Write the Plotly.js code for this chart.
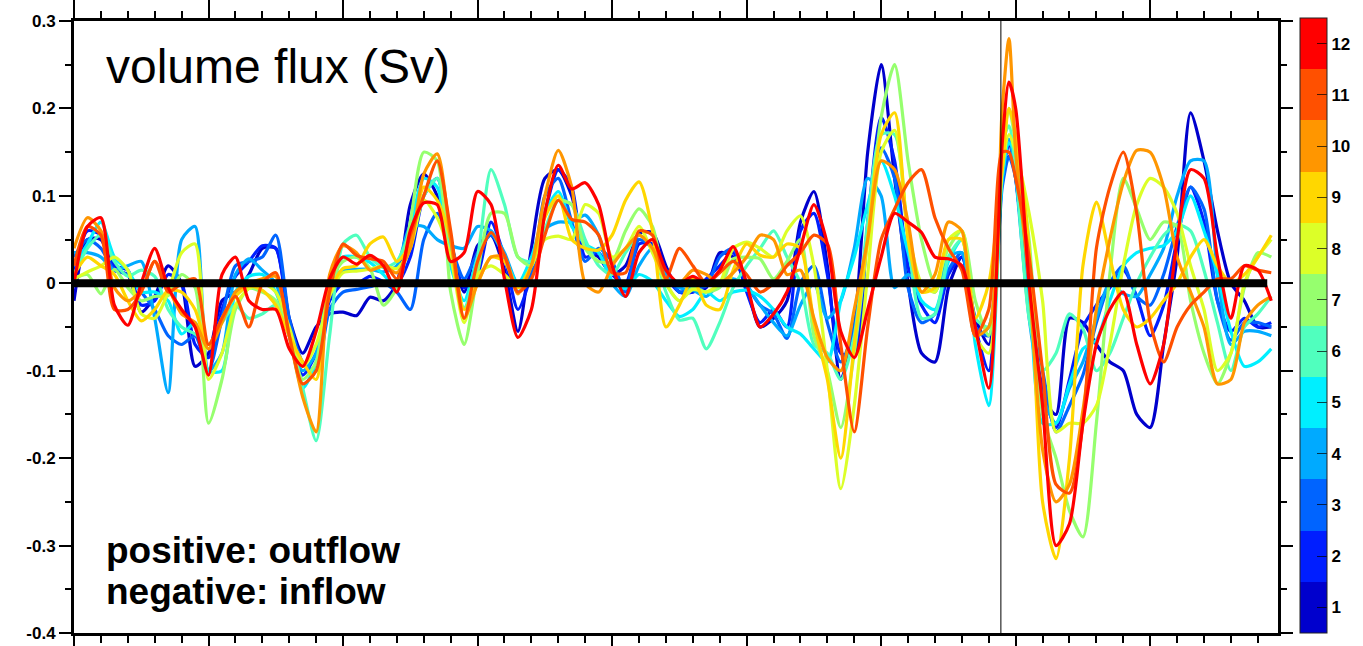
<!DOCTYPE html>
<html>
<head>
<meta charset="utf-8">
<script src="https://cdn.plot.ly/plotly-3.0.1.min.js"></script>
<style>html,body{margin:0;padding:0;background:#fff;}#chart{width:1363px;height:646px;}</style>
</head>
<body>
<div id="chart"></div>
<script>
// x positions (arbitrary time units, the axis carries no labels)
const xDays = [0,10,20,30,40,50,60,70,80,90,
100,110,120,130,140,150,160,170,180,190,
200,210,220,230,240,250,260,270,280,290,
300,310,320,330,340,350,360,370,380,390,
400,410,420,430,440,450,460,470,480,490,
500,510,520,530,540,550,560,570,580,590,
600,610,620,630,640,650,660,670,680,690,695,
700,710,720,730,740,750,760,770,780,790,
800,810,820,830,840,850,860,870,880,890];

const monthLabels = ['1','2','3','4','5','6','7','8','9','10','11','12'];
const monthColors = ['#0000cd','#001eff','#0064ff','#00aaff','#00efff','#50ffbe','#96ff6e','#dcff28','#ffd700','#ff9600','#ff5000','#ff0000'];

const m1 = [-0.02,0.05,0.05,0.015,0.01,-0.033,-0.015,0.02,0.0,-0.095,
-0.08,-0.02,-0.01,0.01,0.04,0.04,-0.04,-0.08,-0.05,-0.035,
-0.033,-0.037,-0.016,-0.02,0.0,0.09,0.125,0.1,0.04,-0.01,
0.043,0.055,0.015,-0.055,0.04,0.12,0.13,0.1,0.04,0.03,
0.01,0.02,0.057,0.058,0.02,-0.01,-0.01,-0.005,0.035,0.03,
-0.005,-0.05,-0.04,-0.02,0.07,0.105,0.02,-0.11,-0.05,0.15,
0.25,0.12,0.0,-0.08,-0.09,-0.005,0.03,-0.04,-0.07,0.12,0.16,
0.12,-0.02,-0.13,-0.15,-0.04,-0.045,-0.07,-0.09,-0.1,-0.15,
-0.165,-0.07,0.03,0.195,0.14,0.06,0.0,-0.02,-0.05,-0.05];

const m2 = [0.01,0.06,0.055,0.02,0.015,-0.025,-0.02,0.01,0.0,-0.07,
-0.085,-0.03,0.008,0.025,0.043,0.04,-0.05,-0.105,-0.08,-0.02,
0.0,-0.001,0.008,0.002,0.0,0.03,0.1,0.12,0.05,-0.005,
0.01,0.07,0.03,-0.03,0.01,0.08,0.13,0.11,0.03,0.035,
0.01,0.0,0.045,0.045,0.008,-0.01,-0.01,0.005,0.02,0.035,
-0.01,-0.045,-0.03,-0.05,0.06,0.08,0.01,-0.08,-0.08,0.07,
0.19,0.14,0.02,-0.025,-0.045,0.01,0.03,-0.05,-0.1,0.12,0.145,
0.14,-0.03,-0.12,-0.165,-0.11,-0.05,-0.025,-0.005,0.015,-0.015,
-0.06,-0.025,0.05,0.11,0.07,-0.02,-0.055,-0.04,-0.05,-0.045];

const m3 = [0.03,0.05,0.04,0.015,0.01,-0.01,-0.03,-0.06,-0.07,-0.06,
-0.1,-0.04,0.02,0.025,0.03,0.055,-0.04,-0.09,-0.1,-0.03,
-0.01,-0.007,-0.004,0.0,-0.01,-0.03,0.05,0.08,0.043,0.005,
0.035,0.055,0.03,-0.01,0.01,0.1,0.12,0.07,0.025,0.04,
0.025,-0.01,0.05,0.04,0.015,-0.01,-0.005,-0.003,0.03,0.04,
0.0,-0.025,-0.035,-0.063,0.0,0.02,-0.045,-0.09,-0.05,0.06,
0.155,0.12,-0.005,-0.045,-0.035,0.015,0.035,-0.05,-0.06,0.11,0.145,
0.12,-0.03,-0.1,-0.17,-0.14,-0.105,-0.045,0.0,0.02,-0.015,
-0.025,0.01,0.065,0.11,0.085,-0.02,-0.065,-0.045,-0.045,-0.05];

const m4 = [0.035,0.035,0.03,0.015,0.02,0.025,-0.04,-0.125,0.05,0.065,
-0.1,-0.08,0.01,0.028,0.015,0.0,-0.06,-0.1,-0.08,0.0,
0.015,0.016,0.016,0.013,0.02,0.065,0.065,0.05,0.043,0.04,
0.065,0.06,0.035,0.0,0.02,0.062,0.07,0.07,0.078,0.055,
0.0,-0.015,0.02,0.04,0.01,-0.005,-0.008,-0.015,0.0,0.005,
-0.003,-0.025,-0.045,-0.06,-0.025,0.0,-0.04,-0.02,0.04,0.12,
0.1,-0.005,0.01,0.0,-0.01,0.03,0.035,-0.06,-0.05,0.12,0.165,
0.12,-0.04,-0.13,-0.16,-0.12,-0.09,-0.04,0.0,-0.012,-0.015,
0.01,0.04,0.1,0.14,0.14,0.01,-0.07,-0.055,-0.055,-0.06];

const m5 = [0.02,0.045,0.07,0.03,0.015,-0.01,-0.01,-0.02,-0.058,-0.045,
-0.1,-0.1,-0.01,0.008,0.01,-0.01,-0.06,-0.12,-0.09,0.005,
0.03,0.03,0.024,0.01,-0.005,0.06,0.12,0.11,0.02,-0.02,
0.03,0.058,0.03,0.0,0.03,0.08,0.105,0.065,0.045,0.035,
0.003,-0.006,0.01,0.002,-0.02,-0.038,-0.03,-0.01,-0.02,-0.01,
-0.008,-0.015,-0.03,-0.05,-0.058,-0.075,-0.09,-0.02,0.03,0.09,
0.14,0.1,0.035,-0.02,-0.03,0.025,0.05,-0.07,-0.14,0.12,0.16,
0.15,0.0,-0.16,-0.16,-0.115,-0.075,-0.065,-0.02,0.02,0.035,
0.04,0.043,0.06,0.1,0.06,0.01,-0.055,-0.095,-0.09,-0.075];

const m6 = [0.01,0.04,0.055,0.025,0.008,0.015,0.008,-0.03,-0.05,-0.058,
-0.07,-0.045,-0.025,-0.04,-0.035,-0.025,-0.06,-0.12,-0.18,-0.06,
0.045,0.055,0.03,0.018,0.025,0.06,0.1,0.12,0.04,-0.028,
0.03,0.13,0.09,0.03,0.025,0.062,0.095,0.09,0.05,0.02,
0.01,0.035,0.055,0.04,-0.01,-0.042,-0.04,-0.075,-0.045,-0.005,
0.02,0.04,0.06,0.03,0.0,-0.07,-0.08,-0.11,-0.06,0.07,
0.17,0.17,0.05,-0.04,-0.035,0.03,0.05,-0.04,-0.05,0.16,0.18,
0.13,-0.04,-0.1,-0.08,-0.035,-0.052,-0.1,-0.08,-0.04,0.0,
0.03,0.055,0.067,0.06,0.015,-0.045,-0.1,-0.05,-0.035,-0.015];

const m7 = [0.005,0.01,-0.012,0.016,-0.005,-0.02,-0.015,-0.014,0.01,-0.005,
-0.16,-0.11,-0.03,-0.006,-0.01,-0.02,-0.06,-0.11,-0.09,0.0,
0.025,0.03,0.017,-0.025,-0.005,0.07,0.15,0.14,-0.01,-0.07,
0.012,0.08,0.08,0.03,0.02,0.08,0.095,0.09,0.04,0.025,
0.025,0.06,0.085,0.065,0.0,-0.02,-0.005,-0.01,-0.005,0.028,
0.03,0.028,0.005,0.025,0.05,-0.06,-0.1,-0.165,-0.08,0.05,
0.19,0.25,0.14,0.05,0.0,0.04,0.06,-0.02,-0.06,0.15,0.2,
0.16,0.05,-0.15,-0.2,-0.26,-0.29,-0.16,0.01,0.12,0.085,
0.05,0.07,0.065,-0.02,-0.08,-0.115,-0.08,-0.005,0.035,0.03];

const m8 = [0.005,0.013,0.02,0.03,0.015,-0.035,-0.04,-0.01,0.035,0.045,
-0.11,-0.08,-0.025,-0.006,0.0,-0.01,-0.05,-0.095,-0.07,-0.015,
0.012,0.014,0.016,0.02,0.017,0.04,0.095,0.075,0.03,-0.045,
0.01,0.02,0.01,-0.005,0.02,0.05,0.054,0.05,0.09,0.08,
0.03,0.04,0.065,0.035,0.0,-0.02,-0.007,-0.01,0.0,0.04,
0.047,0.04,0.03,0.06,0.077,0.02,-0.1,-0.235,-0.14,0.01,
0.15,0.175,0.06,0.0,-0.01,0.05,0.06,-0.06,-0.08,0.13,0.17,
0.15,0.08,-0.02,-0.17,-0.16,-0.16,-0.14,-0.07,0.02,0.09,
0.12,0.11,0.08,0.02,-0.03,-0.1,-0.08,0.0,0.03,0.05];

const m9 = [0.01,0.03,0.02,0.01,-0.02,-0.043,-0.03,-0.008,-0.01,-0.03,
-0.075,-0.04,-0.015,-0.003,-0.008,-0.025,-0.06,-0.09,-0.11,-0.01,
0.017,0.02,0.045,0.053,0.025,0.045,0.11,0.095,0.05,-0.03,
0.0,0.03,0.025,-0.005,0.02,0.075,0.1,0.05,0.04,0.038,
0.055,0.095,0.116,0.06,-0.05,-0.025,0.005,-0.025,-0.03,0.015,
0.045,0.032,0.03,0.045,0.04,-0.045,-0.11,-0.2,-0.07,0.05,
0.17,0.195,0.05,-0.01,-0.005,0.05,0.05,-0.04,0.0,0.13,0.2,
0.17,0.04,-0.25,-0.315,-0.2,0.02,0.093,0.03,-0.03,-0.05,
-0.04,-0.02,0.0,0.03,0.05,0.02,0.0,0.01,0.03,0.055];

const m10 = [0.04,0.075,0.06,-0.005,-0.02,-0.008,0.025,-0.005,-0.035,-0.045,
-0.075,-0.045,-0.01,0.0,0.005,0.008,-0.06,-0.13,-0.17,0.01,
0.043,0.035,0.015,0.02,0.012,0.04,0.125,0.148,0.05,-0.04,
0.0,0.03,0.03,-0.012,0.02,0.1,0.152,0.11,0.0,-0.01,
0.02,0.04,0.055,0.04,0.005,0.0,0.015,0.01,0.0,0.012,
0.03,0.055,0.05,0.01,0.015,-0.04,-0.085,-0.1,-0.03,0.05,
0.14,0.13,0.07,-0.01,0.01,0.07,0.06,-0.06,-0.05,0.2,0.28,
0.15,0.0,-0.19,-0.25,-0.23,-0.145,-0.03,0.05,0.115,0.152,
0.15,0.11,0.03,-0.01,-0.05,-0.115,-0.11,-0.045,-0.025,-0.015];

const m11 = [0.02,0.065,0.055,-0.03,-0.03,-0.01,0.025,-0.01,0.0,0.005,
-0.07,-0.04,-0.015,-0.05,0.0,0.012,-0.06,-0.115,-0.1,-0.01,
0.045,0.032,0.028,0.025,0.005,0.055,0.1,0.14,0.06,-0.04,
0.025,0.058,0.032,-0.01,0.005,0.055,0.095,0.073,0.07,0.055,
0.012,0.012,0.06,0.055,0.005,0.04,0.02,0.0,0.012,0.025,
0.01,-0.01,0.0,0.02,0.035,0.055,0.045,-0.07,-0.17,-0.05,
0.05,0.085,0.115,0.13,0.075,0.04,0.015,-0.06,-0.03,0.15,0.15,
0.12,0.03,-0.1,-0.23,-0.24,-0.16,0.04,0.11,0.15,0.08,
-0.045,-0.09,-0.05,-0.025,-0.01,0.005,0.005,0.02,0.015,0.012];

const m12 = [0.0,0.065,0.075,-0.025,-0.048,0.0,0.04,-0.005,-0.03,-0.05,
-0.105,0.01,0.03,-0.02,-0.03,-0.03,-0.075,-0.095,-0.055,0.005,
0.03,0.022,0.032,0.02,-0.01,0.06,0.092,0.09,0.025,0.035,
0.105,0.09,0.005,-0.062,-0.03,0.08,0.135,0.108,0.115,0.09,
0.02,-0.015,0.035,0.05,0.015,0.0,0.008,0.0,0.015,0.042,
0.0,-0.05,-0.035,-0.01,0.04,0.09,0.045,-0.055,-0.085,-0.03,
0.03,0.08,0.07,0.058,0.03,0.028,0.02,-0.05,-0.12,0.16,0.23,
0.2,0.0,-0.14,-0.3,-0.275,-0.16,-0.07,-0.03,-0.01,-0.07,
-0.115,-0.07,0.05,0.13,0.12,0.03,-0.04,0.02,0.015,-0.02];

const monthSeries = [m1,m2,m3,m4,m5,m6,m7,m8,m9,m10,m11,m12];

const yTickVals = [-0.4,-0.3,-0.2,-0.1,0,0.1,0.2,0.3];
const yTickText = ['-0.4','-0.3','-0.2','-0.1','0','0.1','0.2','0.3'];
const zeroLineEnd = 887;
const markerX = 689;

const FONT = 'Liberation Sans, Arial, Helvetica, sans-serif';

const traces = monthSeries.map((ys, i) => ({
  type: 'scatter', mode: 'lines', x: xDays, y: ys,
  line: {color: monthColors[i], width: 3.2, shape: 'spline', smoothing: 0.7},
  name: monthLabels[i], showlegend: false, hoverinfo: 'skip'
}));

const cs = [];
monthColors.forEach((c, i) => { cs.push([i/12, c]); cs.push([(i+1)/12, c]); });

traces.push({
  type: 'scatter', mode: 'markers', x: [null], y: [null], showlegend: false, hoverinfo: 'skip',
  marker: {
    color: [1], cmin: 0.5, cmax: 12.5, colorscale: cs, showscale: true,
    colorbar: {
      thickness: 27, thicknessmode: 'pixels',
      len: 615, lenmode: 'pixels',
      x: 1.0183, xanchor: 'left', xpad: 0,
      y: 0, yanchor: 'bottom', ypad: 0,
      outlinewidth: 1, outlinecolor: '#222',
      tickmode: 'array', tickvals: [1,2,3,4,5,6,7,8,9,10,11,12], ticktext: monthLabels,
      ticks: 'inside', ticklen: 10, tickwidth: 1, tickcolor: 'rgba(0,0,0,0.7)',
      tickfont: {family: FONT, size: 17, color: '#000', weight: 'bold'}
    }
  }
});

const layout = {
  width: 1363, height: 646,
  margin: {l: 74, r: 85, t: 21, b: 13, pad: 0, autoexpand: false},
  paper_bgcolor: '#fff', plot_bgcolor: '#fff',
  showlegend: false,
  xaxis: {
    range: [0, 895], showticklabels: false, showgrid: false, zeroline: false,
    tickmode: 'linear', tick0: 0, dtick: 100,
    ticks: 'outside', ticklen: 22, tickwidth: 2, tickcolor: '#000',
    showline: true, linewidth: 3, linecolor: '#000', mirror: 'allticks',
    minor: {ticks: 'outside', tickmode: 'linear', tick0: 0, dtick: 20, ticklen: 7, tickwidth: 2, tickcolor: '#000', showgrid: false}
  },
  yaxis: {
    range: [-0.4, 0.3], showgrid: false, zeroline: false,
    tickmode: 'array', tickvals: yTickVals, ticktext: yTickText,
    ticks: 'outside', ticklen: 12, tickwidth: 2, tickcolor: '#000',
    showline: true, linewidth: 3, linecolor: '#000', mirror: 'allticks',
    tickfont: {family: FONT, size: 17, color: '#000', weight: 'bold'},
    minor: {ticks: 'outside', tickmode: 'linear', tick0: -0.4, dtick: 0.05, ticklen: 6, tickwidth: 2, tickcolor: '#000', showgrid: false}
  },
  shapes: [
    {type: 'line', xref: 'x', yref: 'y', x0: 0, x1: zeroLineEnd, y0: 0, y1: 0, line: {color: '#000', width: 8}, layer: 'above'},
    {type: 'line', xref: 'x', yref: 'paper', x0: markerX, x1: markerX, y0: 0, y1: 1, line: {color: '#000', width: 1}, layer: 'above'}
  ],
  annotations: [
    {text: 'volume flux (Sv)', xref: 'paper', yref: 'paper', x: 0.025, y: 0.926, xanchor: 'left', yanchor: 'middle', showarrow: false,
     font: {family: FONT, size: 48, color: '#000'}},
    {text: 'positive: outflow', xref: 'paper', yref: 'paper', x: 0.025, y: 0.134, xanchor: 'left', yanchor: 'middle', showarrow: false,
     font: {family: FONT, size: 37, color: '#000', weight: 'bold'}},
    {text: 'negative: inflow', xref: 'paper', yref: 'paper', x: 0.025, y: 0.067, xanchor: 'left', yanchor: 'middle', showarrow: false,
     font: {family: FONT, size: 37, color: '#000', weight: 'bold'}}
  ]
};

Plotly.newPlot('chart', traces, layout, {displayModeBar: false, staticPlot: true});
</script>
</body>
</html>
